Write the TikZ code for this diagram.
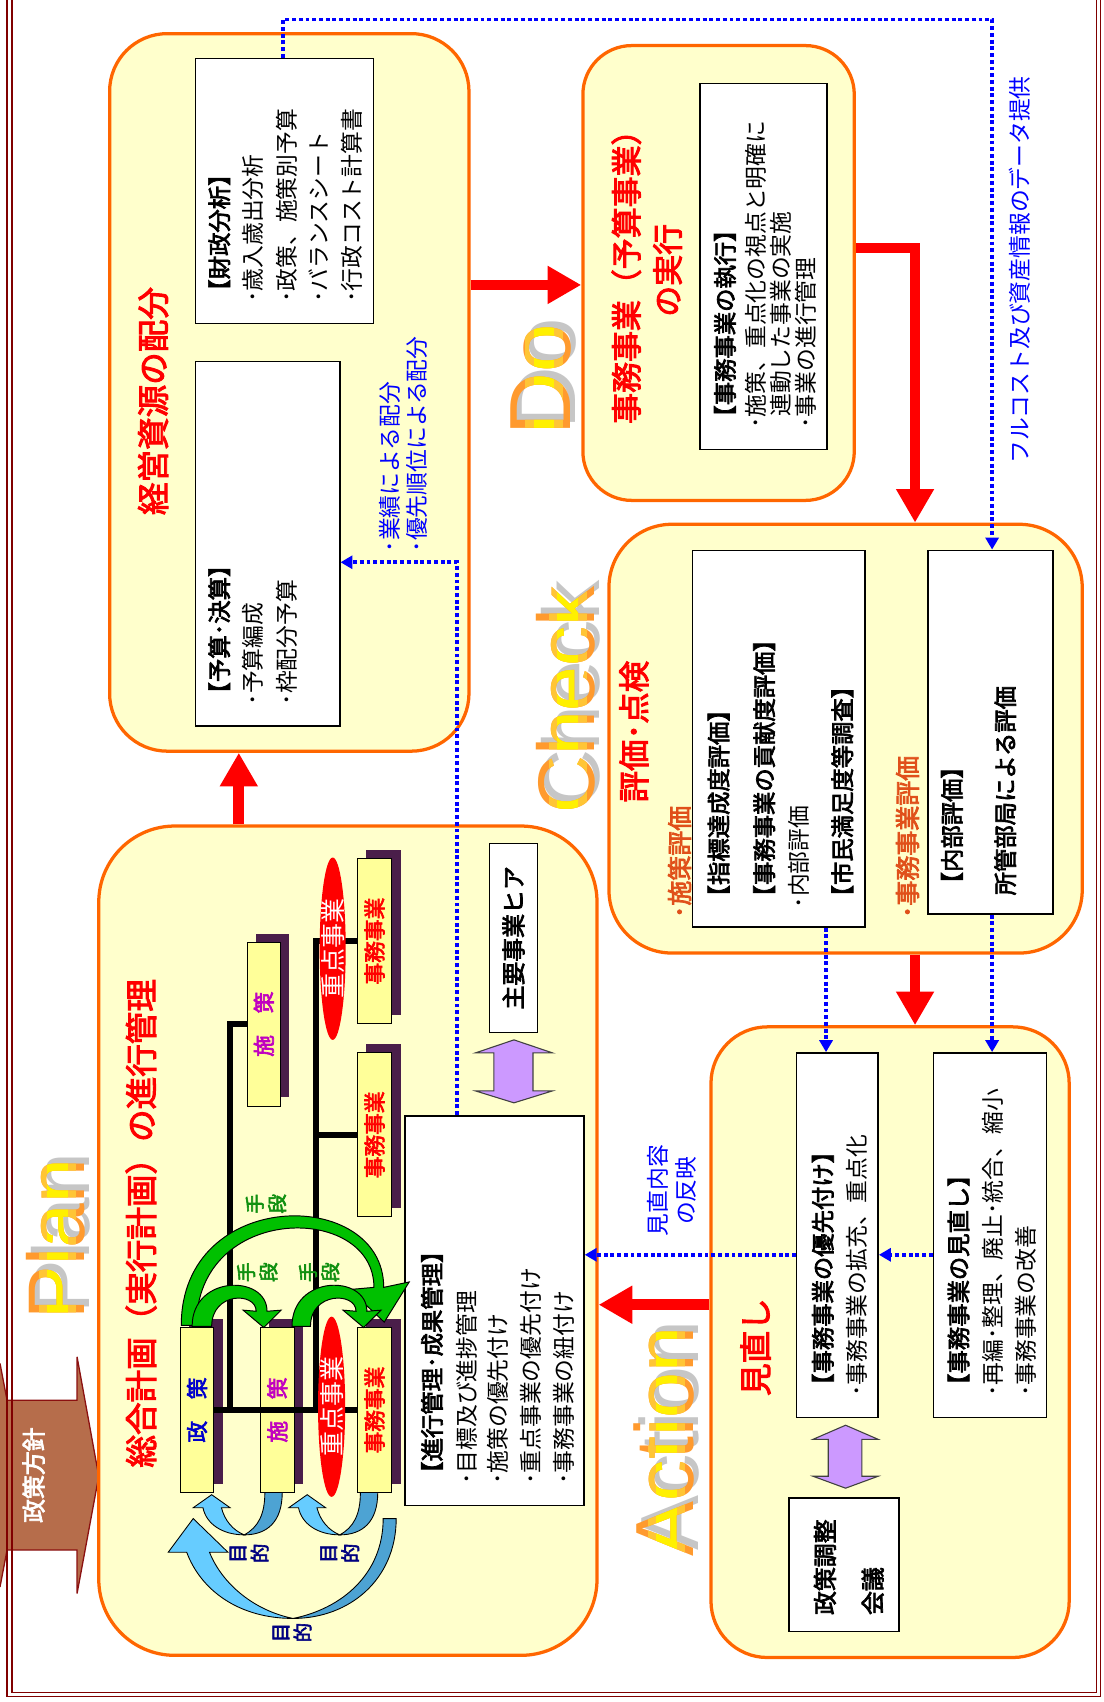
\documentclass[tikz,border=0pt]{standalone}
\usepackage{fontspec}
\newfontfamily\jp{Noto Sans CJK JP}
\newfontfamily\jpb{Noto Sans CJK JP}[FakeBold=3]
\newfontfamily\lsans{Liberation Sans}
\usetikzlibrary{arrows.meta,fit,shapes.geometric}
\definecolor{boxorange}{HTML}{FF6600}
\definecolor{boxfill}{HTML}{FFFFCC}
\definecolor{treefill}{HTML}{FFFF99}
\definecolor{shadowpurple}{HTML}{4A1E4A}
\definecolor{framered}{HTML}{800000}
\definecolor{brownarrow}{HTML}{B66D4B}
\definecolor{brownedge}{HTML}{8B1010}
\definecolor{lav}{HTML}{CC99FF}
\definecolor{ggreen}{HTML}{00C000}
\definecolor{gtext}{HTML}{109010}
\definecolor{lblue}{HTML}{66CCFF}
\definecolor{dblue}{HTML}{4DA3D3}
\definecolor{navyc}{HTML}{000080}
\definecolor{magc}{HTML}{C000C0}
\definecolor{pblue}{HTML}{0000CC}
\definecolor{ored}{HTML}{E0501A}
\definecolor{pdcaor}{HTML}{FF9A2E}
\definecolor{pdcalo}{HTML}{FFC535}
\definecolor{pdcay}{HTML}{FFF000}
\definecolor{pdcash}{HTML}{C6C6C6}
\tikzset{
 rbox/.style={draw=boxorange, line width=3pt, fill=boxfill, inner sep=0pt},
 wbox/.style={draw=black, line width=1.4pt, fill=white, inner sep=0pt},
 tbox/.style={draw=black, line width=1pt, fill=treefill, inner sep=0pt},
 tshadow/.style={fill=shadowpurple, draw=none, inner sep=0pt},
 lt/.style={rotate=90, anchor=west, inner sep=0pt},
 ct/.style={rotate=90, anchor=center, inner sep=0pt},
 body/.style={font=\jp\fontsize{21}{25}\selectfont},
 hdr/.style={font=\jpb\fontsize{21.5}{25}\selectfont},
 ttl/.style={font=\jpb\fontsize{30}{34}\selectfont, text=red},
 big/.style={rotate=90, anchor=base, inner sep=0pt},
 redarrow/.style={draw=red, line width=10pt, -{Triangle[width=33pt,length=31pt]}},
 bluearrow/.style={draw=blue, line width=3.6pt, dash pattern=on 3.6pt off 2.6pt, -{Triangle[width=12pt,length=11pt]}},
 treeline/.style={draw=black, line width=5pt},
 lavarrow/.style={fill=lav, draw=black!75, line width=1pt},
 garc/.style={fill=ggreen, draw=black, line width=0.9pt},
 barcl/.style={fill=lblue, draw=black, line width=0.8pt},
 barcd/.style={fill=dblue, draw=black, line width=0.8pt},
 treetxt/.style={ct, font=\jpb\fontsize{20}{20}\selectfont},
 lbl/.style={ct, align=center, font=\jpb\fontsize{18}{20.5}\selectfont},
}
\newcommand\pdcaword[5]{%
 \node[big, text=pdcash, font=\lsans\fontsize{#4}{#4}\selectfont] (#1s) at ({#2+4.5},{#3-5.5}) {#5};
 \node[big, text=pdcaor, font=\lsans\fontsize{#4}{#4}\selectfont] (#1o) at (#2,#3) {#5};
 \begin{scope}
  \clip ({#2-42},{#3-200}) rectangle ({#2-8},{#3+200});
  \node[big, text=pdcalo, font=\lsans\fontsize{#4}{#4}\selectfont] (#1l) at (#2,#3) {#5};
 \end{scope}
 \begin{scope}
  \clip ({#2-34},{#3-200}) rectangle ({#2-16},{#3+200});
  \node[big, text=pdcay, font=\lsans\fontsize{#4}{#4}\selectfont] (#1y) at (#2,#3) {#5};
 \end{scope}}
\begin{document}
\begin{tikzpicture}[x=1pt,y=-1pt]
\useasboundingbox[fill=white] (0,0) rectangle (1017,1568);
% policy arrow (left part cut by page edge)
\fill[brownarrow] (0,1256) -- (6.5,1290) -- (71,1290) -- (71,1250) -- (91,1360) -- (71,1468) -- (71,1428) -- (6.5,1428) -- (0,1462) -- cycle;
\draw[brownedge, line width=1.2pt] (0,1256) -- (6.5,1290) -- (71,1290) -- (71,1250) -- (91,1360) -- (71,1468) -- (71,1428) -- (6.5,1428) -- (0,1462);
\node[ct, font=\jpb\fontsize{22}{22}\selectfont, text=white] (hoshin) at (31,1359) {政策方針};
% frame
\draw[framered, line width=1.3pt] (6.5,0) |- (1014,1563) -- (1014,0);
\draw[framered, line width=1.3pt] (11,0) |- (1010,1559) -- (1010,0);
% main rounded boxes
\node[rbox, rounded corners=70pt, fit={(91,761)(550,1525)}] (plan) {};
\node[rbox, rounded corners=53pt, fit={(101,31)(432,692)}] (keiei) {};
\node[rbox, rounded corners=45pt, fit={(537,42)(787,461)}] (do) {};
\node[rbox, rounded corners=58pt, fit={(561,483)(997,878)}] (check) {};
\node[rbox, rounded corners=52pt, fit={(655,946)(985,1527)}] (action) {};
% white boxes
\node[wbox, fit={(180,54)(344,298)}] (zaisei) {};
\node[wbox, fit={(180,333)(313,669)}] (yosan) {};
\node[wbox, fit={(645,77)(762,414)}] (shikko) {};
\node[wbox, fit={(638,507)(797,854)}] (shihyo) {};
\node[wbox, fit={(855,507)(970,842)}] (naibu) {};
\node[wbox, fit={(734,970)(809,1306)}] (yusen) {};
\node[wbox, fit={(860,970)(964,1306)}] (minaoshi) {};
\node[wbox, fit={(727,1380)(828,1503)}] (chosei) {};
\node[wbox, fit={(373,1028)(538,1387)}] (shinko) {};
\node[wbox, fit={(451,777)(495,951)}] (hia) {};
% tree
\coordinate (tx1) at (212,0);
\coordinate (tx2) at (291,0);
\node[tshadow, fit={(174,1215)(205,1367)}] (seisakuS) {};
\node[tshadow, fit={(248,1215)(279,1367)}] (shisakuAS) {};
\node[tshadow, fit={(337,1215)(369,1367)}] (jimuAS) {};
\node[tshadow, fit={(236,860)(266,1011)}] (shisakuBS) {};
\node[tshadow, fit={(337,783)(369,935)}] (jimuBS) {};
\node[tshadow, fit={(337,962)(369,1113)}] (jimuCS) {};
\node[tbox, fit={(166,1223)(197,1375)}] (seisaku) {};
\node[tbox, fit={(240,1223)(271,1375)}] (shisakuA) {};
\node[tbox, fit={(329,1223)(361,1375)}] (jimuA) {};
\node[tbox, fit={(228,868)(258,1019)}] (shisakuB) {};
\node[tbox, fit={(329,791)(361,943)}] (jimuB) {};
\node[tbox, fit={(329,970)(361,1121)}] (jimuC) {};
\draw[treeline] (seisaku.east) -- (jimuA.west);
\draw[treeline] (seisaku.east -| tx1) |- (shisakuB.west);
\draw[treeline] (seisaku.east -| tx2) |- (jimuB.west);
\draw[treeline] (tx2 |- jimuC.west) -- (jimuC.west);
\node[ellipse, fill=red, draw=none, minimum width=25pt, minimum height=166pt, inner sep=0pt] (juten1) at (305.5,1296) {};
\node[ellipse, fill=red, draw=none, minimum width=24pt, minimum height=168pt, inner sep=0pt] (juten2) at (306.5,874) {};
\node[treetxt, text=pblue] (seisakuT) at (seisaku.center) {政　策};
\node[treetxt, text=magc] (shisakuAT) at (shisakuA.center) {施　策};
\node[treetxt, text=magc] (shisakuBT) at (shisakuB.center) {施　策};
\node[treetxt, text=red] (jimuAT) at (jimuA.center) {事務事業};
\node[treetxt, text=red] (jimuBT) at (jimuB.center) {事務事業};
\node[treetxt, text=red] (jimuCT) at (jimuC.center) {事務事業};
\node[ct, font=\jp\fontsize{23}{23}\selectfont, text=white] (juten1T) at (juten1.center) {重点事業};
\node[ct, font=\jp\fontsize{23}{23}\selectfont, text=white] (juten2T) at (juten2.center) {重点事業};
% green arcs
\path[garc] (167,1221) .. controls (167,1093) and (353.5,1093) .. (353.5,1186) -- (377,1181) -- (354,1218) -- (322,1188) -- (344.5,1186) .. controls (344.5,1108) and (181,1108) .. (181,1221) -- cycle;
\path[garc] (177,1222) .. controls (177,1174) and (246,1174) .. (246,1208) -- (259,1207) -- (243,1223) -- (224,1207) -- (236,1208) .. controls (236,1190) and (195,1190) .. (195,1222) -- cycle;
\path[garc] (269,1222) .. controls (269,1174) and (338,1174) .. (338,1208) -- (351,1207) -- (335,1223) -- (316,1207) -- (328,1208) .. controls (328,1190) and (286,1190) .. (286,1222) -- cycle;
% blue arcs
\path[barcd] (365,1399) .. controls (365,1455) and (322,1491) .. (270,1491) .. controls (315,1482) and (353,1450) .. (353,1399) -- cycle;
\path[barcl] (270,1491) .. controls (220,1491) and (185,1465) .. (172,1430) -- (155,1430) -- (178,1399) -- (210,1430) -- (193,1430) .. controls (205,1460) and (235,1484) .. (270,1491) -- cycle;
\foreach \dx in {0,88}{
 \path[barcd, xshift=\dx pt] (260,1375) .. controls (260,1402) and (246,1414) .. (225,1414) .. controls (238,1407) and (244,1395) .. (244,1375) -- cycle;
 \path[barcl, xshift=\dx pt] (225,1414) .. controls (205,1414) and (190,1404) .. (187,1389) -- (178,1389) -- (195,1377) -- (212,1389) -- (204,1389) .. controls (207,1401) and (215,1410) .. (225,1414) -- cycle;
}
\node[lbl, text=gtext] (sd1) at (245,1109) {手\\段};
\node[lbl, text=gtext] (sd2) at (237,1172) {手\\段};
\node[lbl, text=gtext] (sd3) at (294,1172) {手\\段};
\node[lbl, text=navyc] (mt1) at (229.5,1431) {目\\的};
\node[lbl, text=navyc] (mt2) at (313,1431) {目\\的};
\node[lbl, text=navyc] (mt3) at (269,1504) {目\\的};
% lavender double arrows
\path[lavarrow] (473.5,958) -- (509,970) -- (491,970) -- (491,1005) -- (509,1005) -- (473.5,1016) -- (438,1005) -- (455,1005) -- (455,970) -- (438,970) -- cycle;
\path[lavarrow] (779,1313) -- (809,1326) -- (794,1326) -- (794,1360) -- (809,1360) -- (779,1371) -- (749,1360) -- (763,1360) -- (763,1326) -- (749,1326) -- cycle;
% Plan texts
\node[ct, ttl] (planT) at (130,1127) {総合計画（実行計画）の進行管理};
\node[ct, font=\jpb\fontsize{22}{22}\selectfont] (hiaT) at (hia.center) {主要事業ヒア};
\node[lt, hdr] (p1) at (398,1368) {【進行管理･成果管理】};
\node[lt, body] (p2) at (430,1368) {･目標及び進捗管理};
\node[lt, body] (p3) at (459,1368) {･施策の優先付け};
\node[lt, body] (p4) at (489,1368) {･重点事業の優先付け};
\node[lt, body] (p5) at (519,1368) {･事務事業の紐付け};
% keiei texts
\node[ct, ttl] (keieiT) at (141,369.5) {経営資源の配分};
\node[lt, hdr] (z1) at (202,279) {【財政分析】};
\node[lt, body] (z2) at (233,279) {･歳入歳出分析};
\node[lt, body] (z3) at (264,279) {･政策、施策別予算};
\node[lt, body] (z4) at (294,279) {･バランスシート};
\node[lt, body] (z5) at (324,279) {･行政コスト計算書};
\node[lt, hdr] (y1) at (202,650) {【予算･決算】};
\node[lt, body] (y2) at (233,650) {･予算編成};
\node[lt, body] (y3) at (264,650) {･枠配分予算};
\node[lt, body, text=blue] (b1) at (359,509) {･業績による配分};
\node[lt, body, text=blue] (b2) at (384,509) {･優先順位による配分};
% Do texts
\node[ct, ttl, font=\jpb\fontsize{28.5}{34}\selectfont] (doT1) at (577,248) {事務事業（予算事業）};
\node[ct, ttl, font=\jpb\fontsize{28.5}{34}\selectfont] (doT2) at (615,249) {の実行};
\node[lt, hdr] (d1) at (668,395) {【事務事業の執行】};
\node[lt, body] (d2) at (696,395) {･施策、重点化の視点と明確に};
\node[lt, body] (d3) at (719,384) {連動した事業の実施};
\node[lt, body] (d4) at (742,395) {･事業の進行管理};
\node[lt, body, text=blue] (full) at (939,427) {フルコスト及び資産情報のデータ提供};
% Check texts
\node[ct, ttl, font=\jpb\fontsize{29}{34}\selectfont] (chkT) at (584,674) {評価･点検};
\node[lt, font=\jpb\fontsize{23}{25}\selectfont, text=ored] (c1) at (626,846) {･施策評価};
\node[lt, hdr] (c2) at (662,837) {【指標達成度評価】};
\node[lt, hdr] (c3) at (704,837) {【事務事業の貢献度評価】};
\node[lt, body] (c4) at (736,837) {･内部評価};
\node[lt, hdr] (c5) at (776,837) {【市民満足度等調査】};
\node[lt, font=\jpb\fontsize{23}{25}\selectfont, text=ored] (c6) at (836,846) {･事務事業評価};
\node[lt, hdr] (c7) at (877,825) {【内部評価】};
\node[lt, hdr] (c8) at (926,825) {所管部局による評価};
% Action texts
\node[ct, ttl] (actT) at (696,1241) {見直し};
\node[lt, hdr] (a1) at (758,1287) {【事務事業の優先付け】};
\node[lt, body] (a2) at (789,1287) {･事務事業の拡充、重点化};
\node[lt, hdr] (a3) at (883,1287) {【事務事業の見直し】};
\node[lt, body] (a4) at (915,1287) {･再編･整理、廃止･統合、縮小};
\node[lt, body] (a5) at (945,1287) {･事務事業の改善};
\node[lt, font=\jpb\fontsize{22}{25}\selectfont] (a6) at (760,1488) {政策調整};
\node[lt, font=\jpb\fontsize{22}{25}\selectfont] (a7) at (804,1488) {会議};
\node[ct, align=center, font=\jp\fontsize{21}{26}\selectfont, text=blue] (mn) at (619,1097) {見直内容\\の反映};
% red arrows
\coordinate (rx1) at (220,0);
\coordinate (ry2) at (0,262.5);
\coordinate (ry3) at (0,228.5);
\coordinate (rx4) at (843,0);
\coordinate (ry5) at (0,1202);
\draw[redarrow] (plan.north -| rx1) -- (keiei.south -| rx1);
\draw[redarrow] (keiei.east |- ry2) -- (do.west |- ry2);
\draw[redarrow] (do.east |- ry3) -| (check.north -| rx4);
\draw[redarrow] (check.south -| rx4) -- (action.north -| rx4);
\draw[redarrow] (action.west |- ry5) -- (plan.east |- ry5);
% blue dotted arrows
\coordinate (bx1) at (261,0);
\coordinate (bx2) at (914,0);
\coordinate (by1) at (0,18);
\coordinate (bx3) at (761,0);
\coordinate (by2) at (0,1156);
\coordinate (bx4) at (421,0);
\coordinate (by3) at (0,518);
\draw[bluearrow] (zaisei.north -| bx1) |- (by1 -| bx2) -- (naibu.north -| bx2);
\draw[bluearrow] (naibu.south -| bx2) -- (minaoshi.north -| bx2);
\draw[bluearrow] (shihyo.south -| bx3) -- (yusen.north -| bx3);
\draw[bluearrow] (minaoshi.west |- by2) -- (yusen.east |- by2);
\draw[bluearrow] (yusen.west |- by2) -- (shinko.east |- by2);
\draw[bluearrow] (shinko.north -| bx4) |- (yosan.east |- by3);
% PDCA words
\pdcaword{wplan}{78}{1141.5}{74}{Plan}
\pdcaword{wdo}{526}{350}{80}{Do}
\pdcaword{wcheck}{548}{645}{74}{Check}
\pdcaword{waction}{639}{1328}{76}{Action}
\end{tikzpicture}
\end{document}
